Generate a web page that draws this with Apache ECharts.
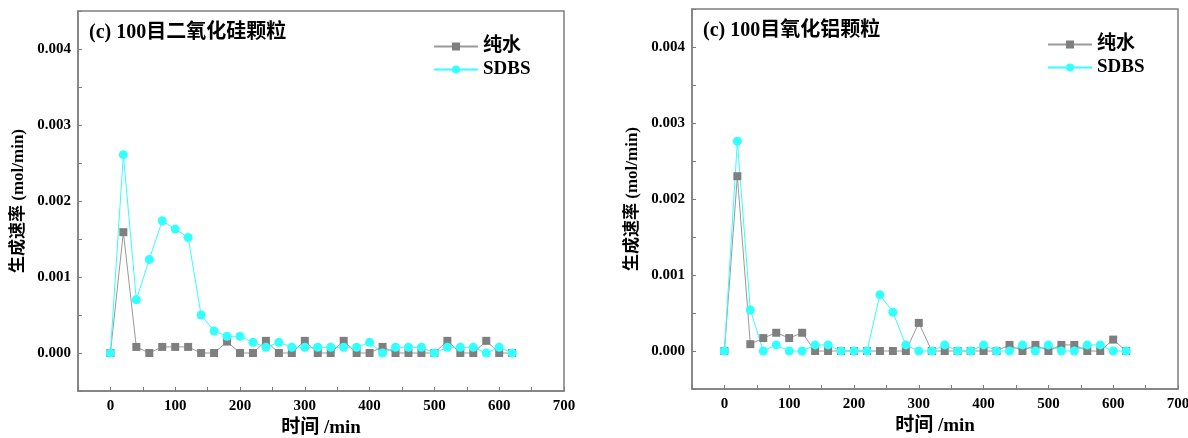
<!DOCTYPE html>
<html>
<head>
<meta charset="utf-8">
<script src="https://cdn.jsdelivr.net/npm/echarts@6/dist/echarts.min.js"></script>
<style>
  html, body { margin: 0; padding: 0; background: #fff; }
  #main { width: 1188px; height: 438px; }
</style>
</head>
<body>
<div id="main"></div>
<script>
// 时间 (min)
const times = [0, 20, 40, 60, 80, 100, 120, 140, 160, 180, 200, 220, 240, 260, 280, 300,
  320, 340, 360, 380, 400, 420, 440, 460, 480, 500, 520, 540, 560, 580, 600, 620];

// (c) 100目二氧化硅颗粒
const siWater = [0, 0.00159, 0.00008, 0, 0.00008, 0.00008, 0.00008, 0, 0, 0.00015, 0, 0,
  0.00016, 0, 0, 0.00016, 0, 0, 0.00016, 0, 0, 0.00008, 0, 0, 0, 0, 0.00016, 0, 0, 0.00016, 0, 0];
const siSdbs = [0, 0.00261, 0.00070, 0.00123, 0.00174, 0.00163, 0.00152, 0.00050, 0.00029,
  0.00022, 0.00022, 0.00014, 0.000075, 0.00014, 0.000075, 0.000075, 0.000075, 0.000075,
  0.000075, 0.000075, 0.00014, 0, 0.000075, 0.000075, 0.000075, 0, 0.000075, 0.000075,
  0.000075, 0, 0.000075, 0];

// (c) 100目氧化铝颗粒
const alWater = [0, 0.00230, 0.00009, 0.00017, 0.00024, 0.00017, 0.00024, 0, 0, 0, 0, 0, 0,
  0, 0, 0.00037, 0, 0, 0, 0, 0, 0, 0.00008, 0, 0.00008, 0, 0.00008, 0.00008, 0, 0, 0.00015, 0];
const alSdbs = [0, 0.00276, 0.00054, 0, 0.00008, 0, 0, 0.00008, 0.00008, 0, 0, 0, 0.00074,
  0.00051, 0.00008, 0, 0, 0.00008, 0, 0, 0.00008, 0, 0, 0.00008, 0, 0.00008, 0, 0, 0.00008,
  0.00008, 0, 0];

const panelTitles = ['(c) 100目二氧化硅颗粒', '(c) 100目氧化铝颗粒'];
const seriesNames = ['纯水', 'SDBS'];
const xTickLabels = [0, 100, 200, 300, 400, 500, 600, 700];
const yTickLabels = [0, 0.001, 0.002, 0.003, 0.004];

const FONT = '"Liberation Serif", "Times New Roman", "Noto Sans CJK SC", serif';
const GRAY = '#7f7f7f';
const CYAN = '#33ffff';

const pairs = ys => times.map((t, i) => [t, ys[i]]);

const grids = [
  { left: 78, top: 11, width: 486, height: 380 },
  { left: 692, top: 9, width: 486, height: 380 },
];

function xAxis(idx) {
  return {
    type: 'value', gridIndex: idx, min: -50, max: 700, interval: 50,
    name: '时间 /min', nameLocation: 'middle', nameGap: 27,
    nameTextStyle: { fontFamily: FONT, fontSize: 19, fontWeight: 'bold', color: '#000' },
    axisLine: { show: true, onZero: false, lineStyle: { color: GRAY, width: 1.5 } },
    axisTick: { show: true, inside: true, length: 4, lineStyle: { color: GRAY } },
    axisLabel: {
      margin: 8, fontFamily: FONT, fontSize: 15, fontWeight: 'bold', color: '#000',
      formatter: v => (xTickLabels.indexOf(v) >= 0 ? String(v) : ''),
    },
    splitLine: { show: false },
  };
}

function yAxis(idx) {
  return {
    type: 'value', gridIndex: idx, min: -0.0005, max: 0.0045, interval: 0.0005,
    name: '生成速率 (mol/min)', nameLocation: 'middle', nameGap: 51,
    nameTextStyle: { fontFamily: FONT, fontSize: 17, fontWeight: 'bold', color: '#000' },
    axisLine: { show: true, onZero: false, lineStyle: { color: GRAY, width: 1.5 } },
    axisTick: { show: true, inside: true, length: 4, lineStyle: { color: GRAY } },
    axisLabel: {
      margin: 7, fontFamily: FONT, fontSize: 15, fontWeight: 'bold', color: '#000',
      formatter: v => {
        const hit = yTickLabels.find(t => Math.abs(t - v) < 1e-9);
        return hit === undefined ? '' : hit.toFixed(3);
      },
    },
    splitLine: { show: false },
  };
}

function lineSeries(name, data, idx, isWater) {
  return {
    name, type: 'line', xAxisIndex: idx, yAxisIndex: idx,
    data: pairs(data),
    symbol: isWater ? 'rect' : 'circle',
    symbolSize: isWater ? 8 : 9,
    itemStyle: { color: isWater ? GRAY : CYAN },
    lineStyle: { color: isWater ? '#999999' : CYAN, width: 1 },
    emphasis: { disabled: true },
    animation: false,
  };
}

const legendText = { fontFamily: FONT, fontSize: 19, fontWeight: 'bold', color: '#000' };
const titleText = { fontFamily: FONT, fontSize: 20, fontWeight: 'bold', color: '#000' };

const chart = echarts.init(document.getElementById('main'));
chart.setOption({
  backgroundColor: '#fff',
  animation: false,
  title: [
    { text: panelTitles[0], left: 84, top: 18, textStyle: titleText },
    { text: panelTitles[1], left: 698, top: 16, textStyle: titleText },
  ],
  legend: [
    { orient: 'vertical', left: 428, top: 32, itemWidth: 44, itemHeight: 10, itemGap: 4,
      data: seriesNames.map(n => ({ name: n })), textStyle: legendText },
    { orient: 'vertical', left: 1042, top: 30, itemWidth: 44, itemHeight: 10, itemGap: 4,
      data: seriesNames.map(n => ({ name: n })), textStyle: legendText },
  ],
  grid: grids.map(g => Object.assign({
    show: true, borderColor: GRAY, borderWidth: 1.5, outerBoundsMode: 'none', containLabel: false,
  }, g)),
  xAxis: [xAxis(0), xAxis(1)],
  yAxis: [yAxis(0), yAxis(1)],
  series: [
    lineSeries(seriesNames[0], siWater, 0, true),
    lineSeries(seriesNames[1], siSdbs, 0, false),
    lineSeries(seriesNames[0], alWater, 1, true),
    lineSeries(seriesNames[1], alSdbs, 1, false),
  ],
});
</script>
</body>
</html>
